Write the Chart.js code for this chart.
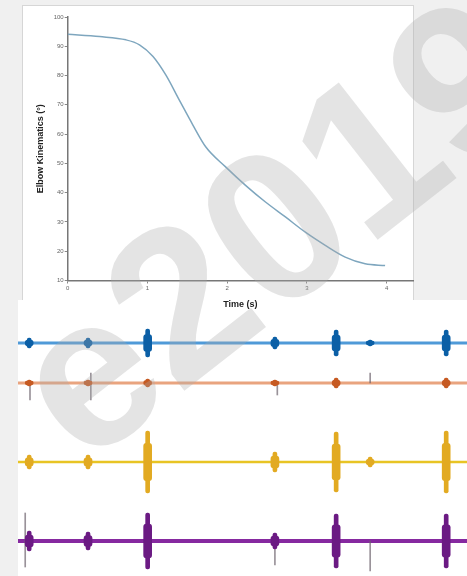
<!DOCTYPE html>
<html>
<head>
<meta charset="utf-8">
<script src="https://cdn.jsdelivr.net/npm/chart.js@4.4.1/dist/chart.umd.min.js"></script>
<style>
  html,body{margin:0;padding:0;width:467px;height:576px;overflow:hidden;background:#f0f0f0;}
  #panelTop{position:absolute;left:22px;top:5px;width:390px;height:295px;background:#fff;border:1px solid #d6d6d6;}
  #panelBot{position:absolute;left:18px;top:300px;width:449px;height:276px;background:#fff;}
  canvas{position:absolute;}
  #wm{position:absolute;left:0;top:0;width:467px;height:576px;overflow:hidden;pointer-events:none;z-index:10;}
  #wm span{position:absolute;left:274px;top:226px;transform:translate(-50%,-50%) rotate(-38deg);
    font-family:"Liberation Sans",Arial,sans-serif;font-weight:bold;font-size:215px;line-height:215px;
    color:rgba(170,170,170,0.32);white-space:nowrap;}
</style>
</head>
<body>
<div id="panelTop"></div>
<div id="panelBot"></div>
<canvas id="kin" width="392" height="305" style="left:22px;top:5px;width:392px;height:305px;"></canvas>
<canvas id="emg0" width="449" height="80" style="left:18px;top:303px;width:449px;height:80px;"></canvas>
<canvas id="emg1" width="449" height="80" style="left:18px;top:343px;width:449px;height:80px;"></canvas>
<canvas id="emg2" width="449" height="80" style="left:18px;top:422px;width:449px;height:80px;"></canvas>
<canvas id="emg3" width="449" height="80" style="left:18px;top:501px;width:449px;height:80px;"></canvas>
<div id="wm"><span>e2019</span></div>
<script>
// ---- Elbow kinematics (top panel) ----
const kinTime  = [0, 0.40, 0.73, 0.90, 1.07, 1.23, 1.40, 1.57, 1.73, 1.98, 2.23, 2.48, 2.73, 2.98, 3.23, 3.48, 3.73, 3.98];
const kinAngle = [94.1, 93.3, 92.2, 90.5, 86.5, 80.2, 71.6, 63.1, 55.7, 48.8, 42.5, 36.8, 31.7, 26.5, 22.0, 18.0, 15.7, 15.1];
const xTickLabels = [0, 1, 2, 3, 4];
const yTickLabels = [10, 20, 30, 40, 50, 60, 70, 80, 90, 100];

// ---- EMG channels (bottom panel) ----
const emgNames   = ['ch1', 'ch2', 'ch3', 'ch4'];
const burstTimes = [0.14, 0.875, 1.62, 3.21, 3.975, 4.40, 5.35];
// half-amplitude of each burst per channel (arbitrary units)
const ch1Amp = [5, 5, 14, 6, 13, 3, 13];
const ch2Amp = [3, 3, 4, 3, 5, 0, 5];
const ch3Amp = [7, 7, 31, 10, 30, 5, 31];
const ch4Amp = [10, 9, 28, 8, 27, 0, 27];
// stimulus / artefact markers: [time, low, high]
const ch2Marks = [[0.15, -17, 0], [0.91, -17, 10], [3.24, -12, 0], [4.40, 0, 10]];
const ch4Marks = [[0.09, -26, 28], [3.21, -24, 0], [4.40, -30, 0]];
const recordEnd = 5.61;

const tinyFont = {family: 'Liberation Sans, Arial, sans-serif', size: 6};

new Chart(document.getElementById('kin'), {
  type: 'line',
  data: {
    datasets: [{
      data: kinTime.map((t, i) => ({x: t, y: kinAngle[i]})),
      borderColor: '#7ea6be',
      borderWidth: 1.5,
      pointRadius: 0,
      cubicInterpolationMode: 'monotone',
      fill: false
    }]
  },
  options: {
    responsive: false, animation: false, devicePixelRatio: 1,
    layout: {padding: {top: 12, right: 1, left: 13, bottom: 0}},
    plugins: {legend: {display: false}, tooltip: {enabled: false}},
    scales: {
      x: {
        type: 'linear', min: 0, max: 4.33,
        afterBuildTicks: s => { s.ticks = xTickLabels.map(v => ({value: v})); },
        afterFit: s => { s.height = 29.5; },
        grid: {display: true, drawOnChartArea: false, tickLength: 3, color: '#888'},
        border: {color: '#777', width: 1.5},
        ticks: {font: tinyFont, color: '#666', padding: 1, callback: v => String(v)},
        title: {display: true, text: 'Time (s)', color: '#222', padding: {top: 2, bottom: 0},
                font: {family: 'Liberation Sans, Arial, sans-serif', size: 9, weight: 'bold'}}
      },
      y: {
        min: 10, max: 100,
        afterBuildTicks: s => { s.ticks = yTickLabels.map(v => ({value: v})); },
        afterFit: s => { s.width = 32.7; },
        grid: {display: true, drawOnChartArea: false, tickLength: 3, color: '#888'},
        border: {color: '#777', width: 1.5},
        ticks: {font: tinyFont, color: '#666', padding: 1, callback: v => String(v)},
        title: {display: true, text: 'Elbow Kinematics (°)', color: '#222', padding: {top: 0, bottom: 0},
                font: {family: 'Liberation Sans, Arial, sans-serif', size: 9, weight: 'bold'}}
      }
    }
  }
});

const chanAmps  = [ch1Amp, ch2Amp, ch3Amp, ch4Amp];
const chanMarks = [[], ch2Marks, [], ch4Marks];
const lineCols  = ['#4f9ad8', '#e9a47f', '#e8c424', '#8629a0'];
const burstCols = ['#0b5fa6', '#c65a22', '#e2aa22', '#6b1a83'];
const lineW     = [3, 3, 2.5, 4];

emgNames.forEach((name, c) => {
  const amps = chanAmps[c];
  const bursts = burstTimes.map((t, i) => ({x: t, y: [-amps[i], amps[i]]})).filter(d => d.y[1] > 0);
  const cores  = burstTimes.map((t, i) => ({x: t, y: [-amps[i] * 0.6, amps[i] * 0.6]})).filter(d => d.y[1] > 0);
  new Chart(document.getElementById('emg' + c), {
    data: {
      datasets: [
        {type: 'line', label: name, data: [{x: 0, y: 0}, {x: recordEnd, y: 0}],
         borderColor: lineCols[c], borderWidth: lineW[c], pointRadius: 0, order: 3},
        {type: 'bar', data: chanMarks[c].map(m => ({x: m[0], y: [m[1], m[2]]})), grouped: false,
         backgroundColor: 'rgba(110,100,110,0.7)', barThickness: 1, order: 2},
        {type: 'bar', data: bursts, backgroundColor: burstCols[c], barThickness: 4, grouped: false,
         borderRadius: 2, borderSkipped: false, order: 1},
        {type: 'bar', data: cores, backgroundColor: burstCols[c], barThickness: 8, grouped: false,
         borderRadius: 3, borderSkipped: false, order: 0}
      ]
    },
    options: {
      responsive: false, animation: false, devicePixelRatio: 1,
      layout: {padding: 0},
      plugins: {legend: {display: false}, tooltip: {enabled: false}},
      scales: {
        x: {type: 'linear', min: 0, max: recordEnd, display: false, offset: false},
        y: {min: -40, max: 40, display: false}
      }
    }
  });
});
</script>
</body>
</html>
